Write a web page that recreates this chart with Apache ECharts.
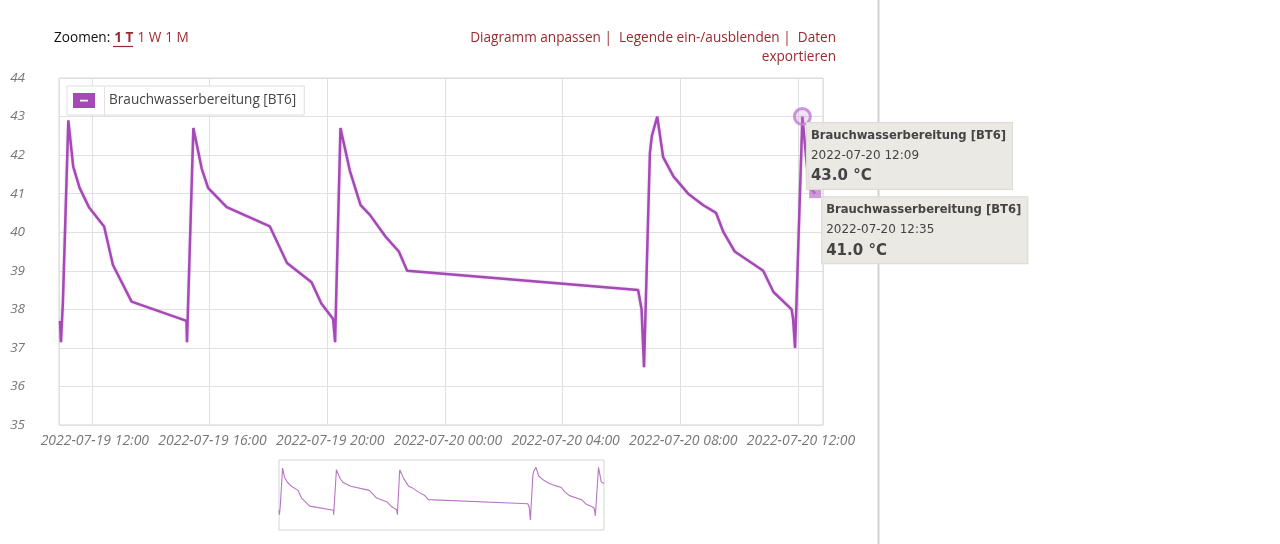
<!DOCTYPE html>
<html><head><meta charset="utf-8">
<script src="https://cdn.jsdelivr.net/npm/echarts@6/dist/echarts.min.js"></script>
<style>html,body{margin:0;padding:0;background:#fff;}#c{width:1280px;height:544px;}</style>
</head><body><div id="c"></div>
<script>
const seriesName = 'Brauchwasserbereitung [BT6]';
const times = [
'2022-07-19 10:55','2022-07-19 10:57','2022-07-19 11:01','2022-07-19 11:12','2022-07-19 11:22',
'2022-07-19 11:35','2022-07-19 11:54','2022-07-19 12:25','2022-07-19 12:43','2022-07-19 13:21',
'2022-07-19 15:13','2022-07-19 15:14','2022-07-19 15:27','2022-07-19 15:44','2022-07-19 15:57',
'2022-07-19 16:35','2022-07-19 18:03','2022-07-19 18:38','2022-07-19 19:28','2022-07-19 19:48',
'2022-07-19 20:12','2022-07-19 20:16','2022-07-19 20:27','2022-07-19 20:46','2022-07-19 21:08',
'2022-07-19 21:27','2022-07-19 21:58','2022-07-19 22:26','2022-07-19 22:43','2022-07-20 06:34',
'2022-07-20 06:41','2022-07-20 06:46','2022-07-20 06:58','2022-07-20 07:02','2022-07-20 07:13',
'2022-07-20 07:25','2022-07-20 07:46','2022-07-20 08:16','2022-07-20 08:47','2022-07-20 09:13',
'2022-07-20 09:28','2022-07-20 09:51','2022-07-20 10:49','2022-07-20 11:10','2022-07-20 11:47',
'2022-07-20 11:50','2022-07-20 11:54','2022-07-20 12:09','2022-07-20 12:22','2022-07-20 12:35'
];
const temps = [
37.7,37.15,38.2,42.9,41.7,
41.15,40.65,40.15,39.15,38.2,
37.7,37.15,42.7,41.65,41.15,
40.65,40.15,39.2,38.7,38.15,
37.75,37.15,42.7,41.6,40.7,
40.45,39.9,39.5,39.0,38.5,
38.0,36.5,42.05,42.5,43.0,
41.95,41.45,41.0,40.7,40.5,
40.0,39.5,39.0,38.45,38.0,
37.75,37.0,43.0,41.2,41.0
];
const axisStart = '2022-07-19 10:53';
const axisEnd = '2022-07-20 12:51';
const highlighted = [47, 49];
const zoomLabel = 'Zoomen:';
const zoomLinks = ['1 T', '1 W', '1 M'];
const actionLine1 = 'Diagramm anpassen |  Legende ein-/ausblenden |  Daten';
const actionLine2 = 'exportieren';

const toMs = s => new Date(s.replace(' ', 'T') + ':00').getTime();
const data = times.map((s, i) => [toMs(s), temps[i]]);
const HOUR = 3600 * 1000;
const LINE = '#a549b6';
const LINK = '#9a2a2e';
const FONT = 'Open Sans';

function tipLabel(i, pos) {
  return {
    show: true,
    position: pos,
    align: 'left',
    verticalAlign: 'top',
    backgroundColor: 'rgba(233,232,226,0.95)',
    borderColor: '#dcdbd3',
    borderWidth: 1,
    padding: [3, 6, 2, 4],
    formatter: '{t|' + seriesName + '}\n{d|' + times[i] + '}\n{v|' + temps[i].toFixed(1) + ' °C}',
    rich: {
      t: { fontFamily: 'DejaVu Sans', fontWeight: 'bold', fontSize: 11.6, color: '#444', lineHeight: 20 },
      d: { fontFamily: 'DejaVu Sans', fontSize: 12, color: '#444', lineHeight: 20 },
      v: { fontFamily: 'DejaVu Sans', fontWeight: 'bold', fontSize: 15, color: '#444', lineHeight: 21 }
    }
  };
}

const chart = echarts.init(document.getElementById('c'), null, { renderer: 'canvas' });
chart.setOption({
  animation: false,
  backgroundColor: '#fff',
  graphic: [
    { type: 'line', z: -1, shape: { x1: 878.5, y1: 0, x2: 878.5, y2: 544 }, style: { stroke: '#d2d2d2', lineWidth: 2 } },
    { type: 'text', x: 54, y: 38, style: {
        text: '{a|' + zoomLabel + '}{b|' + zoomLinks[0] + '}{c|' + zoomLinks[1] + '}{c|' + zoomLinks[2] + '}',
        verticalAlign: 'middle',
        rich: {
          a: { fontFamily: FONT, fontSize: 13.6, fill: '#111' },
          b: { fontFamily: FONT, fontSize: 13.6, fontWeight: 'bold', fill: LINK, padding: [0, 0, 0, 4] },
          c: { fontFamily: FONT, fontSize: 13.6, fill: LINK, padding: [0, 0, 0, 4] }
        } } },
    { type: 'line', shape: { x1: 113, y1: 46.5, x2: 133, y2: 46.5 }, style: { stroke: LINK, lineWidth: 1.2 } },
    { type: 'text', x: 836, y: 38, style: { text: actionLine1, align: 'right', verticalAlign: 'middle', font: '13.6px "Open Sans"', fill: LINK } },
    { type: 'text', x: 836, y: 57, style: { text: actionLine2, align: 'right', verticalAlign: 'middle', font: '13.6px "Open Sans"', fill: LINK } },
    { type: 'line', z: 100, shape: { x1: 104.5, y1: 87, x2: 104.5, y2: 116 }, style: { stroke: '#e2e2e2', lineWidth: 1 } }
  ],
  legend: {
    left: 67, top: 86,
    data: [{ name: seriesName, icon: 'path://M0,0L22,0L22,15L0,15Z M7,6.8L7,8.4L15,8.4L15,6.8Z' }],
    itemWidth: 22, itemHeight: 15,
    padding: [7, 8, 7, 6],
    backgroundColor: '#fff',
    borderColor: '#dedede', borderWidth: 1,
    textStyle: { fontFamily: FONT, fontSize: 13.6, color: '#444', padding: [0, 0, 0, 9] },
    selectedMode: false
  },
  grid: [
    { left: 59, top: 78, right: 457, bottom: 119, show: true, borderColor: '#d6d6d6', borderWidth: 1, containLabel: false },
    { left: 279, top: 460, width: 325, height: 70, show: true, borderColor: '#d4d4d4', borderWidth: 1 }
  ],
  xAxis: [
    { type: 'time', gridIndex: 0, min: toMs(axisStart), max: toMs(axisEnd),
      minInterval: 4 * HOUR, maxInterval: 4 * HOUR,
      axisLine: { show: false }, axisTick: { show: false },
      axisLabel: { formatter: '{yyyy}-{MM}-{dd} {HH}:{mm}', showMinLabel: false, showMaxLabel: false,
        fontFamily: FONT, fontStyle: 'italic', fontSize: 14, color: '#777', margin: 9, padding: [0, 0, 0, 6] },
      splitLine: { show: true, lineStyle: { color: '#e0e0e0', width: 1 } } },
    { type: 'time', gridIndex: 1, min: 'dataMin', max: 'dataMax', show: false, splitLine: { show: false } }
  ],
  yAxis: [
    { type: 'value', gridIndex: 0, min: 35, max: 44, interval: 1,
      axisLine: { show: false }, axisTick: { show: false },
      axisLabel: { fontFamily: FONT, fontStyle: 'italic', fontSize: 13.5, color: '#777', margin: 34 },
      splitLine: { show: true, lineStyle: { color: '#e0e0e0', width: 1 } } },
    { type: 'value', gridIndex: 1, min: 35.25, max: 43.9, show: false, splitLine: { show: false } }
  ],
  series: [
    { name: seriesName, type: 'line', xAxisIndex: 0, yAxisIndex: 0, data: data,
      showSymbol: false, symbol: 'none', color: LINE,
      lineStyle: { color: LINE, width: 2.5, shadowColor: 'rgba(165,73,182,0.35)', shadowBlur: 2 },
      markPoint: {
        silent: true,
        data: [
          { coord: data[highlighted[0]], symbol: 'circle', symbolSize: 16,
            itemStyle: { color: 'rgba(200,140,215,0.25)', borderColor: 'rgba(195,130,210,0.85)', borderWidth: 3 },
            label: tipLabel(highlighted[0], [14, 16]) },
          { coord: data[highlighted[1]], symbol: 'rect', symbolSize: [12, 9],
            itemStyle: { color: 'rgba(190,120,205,0.75)' },
            label: tipLabel(highlighted[1], [13, 8]) }
        ]
      } },
    { name: 'preview', type: 'line', xAxisIndex: 1, yAxisIndex: 1, data: data,
      showSymbol: false, symbol: 'none', silent: true,
      lineStyle: { color: '#b875c6', width: 1.1 } }
  ]
});
</script>
</body></html>
